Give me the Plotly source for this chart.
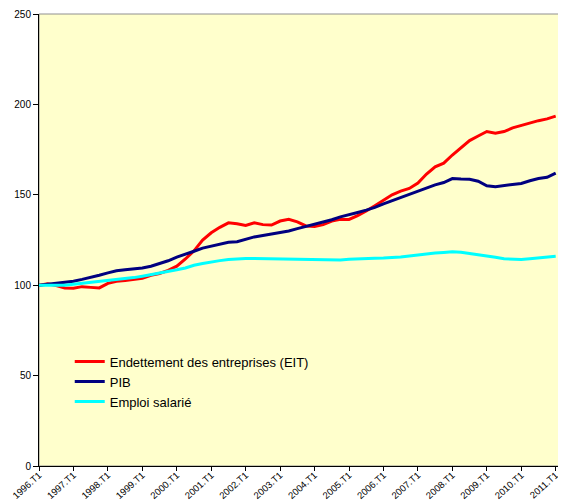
import plotly.graph_objects as go

quarters = [f"{y}.T{q}" for y in range(1996, 2012) for q in range(1, 5)][:61]

endettement = [100, 100.8, 99.8, 98.5, 98.3, 99.2, 98.8, 98.5, 101, 102.2,
               102.6, 103.2, 103.8, 105.5, 106.5, 108.2, 110.5, 114.5, 119, 125,
               129, 132, 134.5, 134, 133, 134.5, 133.5, 133.3, 135.5, 136.4,
               135, 132.8, 132.5, 133.5, 135.5, 136.4, 136.4, 138.5, 141, 144,
               147, 150, 152, 153.5, 156.5, 161.5, 165.5, 167.5, 172, 176,
               180, 182.5, 185, 184, 185, 187, 188.3, 190, 191, 192, 193.5]

pib = [100, 100.5, 101, 101.5, 102.2, 103.2, 104.2, 105.5, 106.8, 108,
       108.6, 109, 109.5, 110.5, 112, 113.5, 115.5, 117, 118.8, 120.5,
       121.7, 122.7, 123.7, 124, 125.5, 126.7, 127.5, 128.2, 129, 130,
       131.3, 132.5, 133.8, 135, 136.2, 137.8, 138.8, 140.2, 141.5, 143,
       145, 146.8, 148.3, 150.2, 152, 153.8, 155.5, 156.8, 159, 158.7,
       158.6, 157.5, 155, 154.5, 155, 155.8, 156.3, 157.8, 159, 159.7, 162]

emploi = [100, 100, 100, 100, 100.5, 101, 101.5, 102, 102.5, 103,
          103.5, 104.2, 105, 105.8, 106.6, 107.5, 108.5, 109.5, 111, 112,
          113, 113.6, 114.2, 114.7, 114.8, 114.8, 114.7, 114.7, 114.6, 114.4,
          114.2, 114, 113.9, 113.9, 113.9, 114, 114.3, 114.6, 114.8, 114.9,
          115, 115.2, 115.6, 116.2, 116.8, 117.3, 117.8, 118.1, 118.5, 118.2,
          117.6, 117.1, 116.5, 115.5, 114.6, 114.2, 114.2, 114.6, 115, 115.3, 116]

tick_labels = quarters[::4]
x_idx = list(range(len(quarters)))

fig = go.Figure()
fig.add_trace(go.Scatter(x=x_idx, y=endettement, mode="lines",
                         name="Endettement des entreprises (EIT)",
                         line=dict(color="#FF0000", width=3)))
fig.add_trace(go.Scatter(x=x_idx, y=pib, mode="lines", name="PIB",
                         line=dict(color="#000080", width=3)))
fig.add_trace(go.Scatter(x=x_idx, y=emploi, mode="lines", name="Emploi salarié",
                         line=dict(color="#00FFFF", width=3)))

# page body has an 8px default margin, so compensate in figure size/margins
fig.update_layout(
    width=558, height=492,
    margin=dict(l=31, r=6, t=6, b=34),
    paper_bgcolor="white",
    plot_bgcolor="#FFFFCC",
    font=dict(family="Liberation Sans, Arial", color="black"),
    showlegend=True,
    legend=dict(x=0.059, y=0.264, xanchor="left", yanchor="top",
                bgcolor="rgba(0,0,0,0)", font=dict(size=13, color="black"),
                tracegroupgap=0),
    shapes=[dict(type="rect", xref="paper", yref="paper", x0=0, x1=1, y0=0, y1=1,
                 line=dict(color="#909090", width=1), layer="below")],
)
fig.update_xaxes(
    range=[0, 60.5],
    tickmode="array",
    tickvals=x_idx[::4],
    ticktext=tick_labels,
    tickangle=-42,
    tickfont=dict(size=9.5),
    ticks="outside", ticklen=4, tickcolor="black",
    ticklabelstandoff=-5,
    showline=True, linecolor="black", linewidth=1,
    showgrid=False, zeroline=False,
    automargin=False,
)
fig.update_yaxes(
    range=[0, 250],
    tickvals=[0, 50, 100, 150, 200, 250],
    tickfont=dict(size=10),
    ticks="outside", ticklen=5, tickcolor="black",
    showline=True, linecolor="black", linewidth=1,
    showgrid=False, zeroline=False,
    automargin=False,
)

fig.write_html("out.html")
